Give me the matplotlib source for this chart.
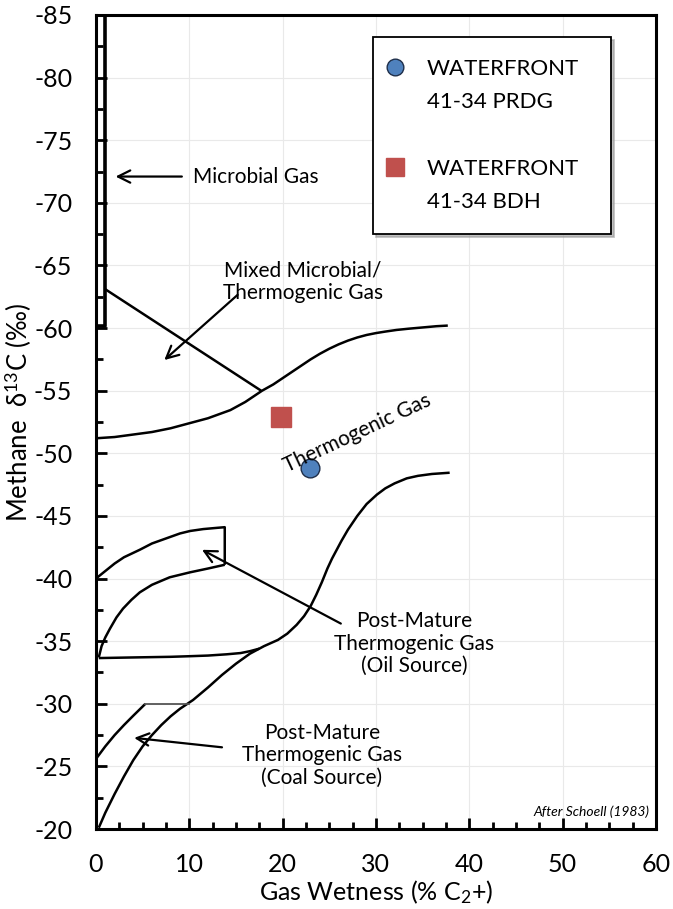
import numpy as np
import matplotlib
matplotlib.use("Agg")
import matplotlib.pyplot as plt
from matplotlib.lines import Line2D

plt.rcParams['font.family'] = ['Lato', 'DejaVu Sans']
plt.rcParams['mathtext.fontset'] = 'custom'
plt.rcParams['mathtext.rm'] = 'Lato'
plt.rcParams['mathtext.it'] = 'Lato:italic'
plt.rcParams['axes.unicode_minus'] = False

# ---- data ----
prdg_x = [22.9]
prdg_y = [-48.8]
bdh_x = [19.8]
bdh_y = [-52.9]

# microbial bracket (x=1 from -85 to -60)
microbial_x = [1, 1, 0]
microbial_y = [-85, -60.2, -60.2]

# mixed microbial / thermogenic line
mixed_x = [1.0, 17.7]
mixed_y = [-63.1, -55.0]

# upper thermogenic boundary
upper_x = [0, 2, 4, 6, 8, 10, 12, 14.4, 16, 17.8, 19, 20, 21, 22, 23, 24,
           25, 26, 27, 28, 29, 30, 31, 32.2, 33.5, 35, 36.5, 37.7]
upper_y = [-51.2, -51.3, -51.5, -51.7, -52.0, -52.4, -52.8, -53.45, -54.1,
           -55.0, -55.5, -56.0, -56.5, -57.0, -57.5, -57.95, -58.35, -58.7,
           -59.0, -59.25, -59.45, -59.6, -59.72, -59.85, -59.95, -60.05,
           -60.15, -60.2]

# flat oil-source base
flat_x = [0.3, 4, 8, 10.1, 12, 14, 15.5, 16.5, 17.5]
flat_y = [-33.65, -33.7, -33.75, -33.8, -33.85, -33.95, -34.05, -34.2, -34.4]

# coal-source lower curve continuing into the S curve
scurve_x = [0.3, 1, 2, 3, 4, 5, 6, 7, 8, 9, 10.4, 12, 13.5, 15, 16.5, 18,
            19.5, 20.5, 21.5, 22.3, 23, 23.6, 24.2, 24.8, 25.3, 25.8, 26.3,
            27, 28, 29, 30.1, 31, 32, 33.3, 34.5, 36, 37.9]
scurve_y = [-20.1, -21.3, -22.8, -24.2, -25.5, -26.6, -27.5, -28.3, -29.0,
            -29.6, -30.3, -31.3, -32.3, -33.2, -34.0, -34.6, -35.1, -35.6,
            -36.3, -37.0, -37.8, -38.7, -39.7, -40.8, -41.6, -42.3, -43.0,
            -43.9, -45.0, -45.95, -46.7, -47.2, -47.6, -48.0, -48.2, -48.35,
            -48.45]

# oil source post-mature box
oil_top_x = [0, 1, 2, 3, 4.7, 6, 7.5, 9, 10.1, 11.5, 13, 13.8, 13.8]
oil_top_y = [-40.0, -40.6, -41.2, -41.7, -42.3, -42.8, -43.2, -43.6, -43.8,
             -43.95, -44.05, -44.1, -41.1]
oil_low_x = [0.3, 0.6, 1.0, 1.5, 2.2, 2.9, 3.8, 4.7, 6, 7.9, 10.1, 12, 13.8]
oil_low_y = [-33.7, -34.6, -35.3, -36.0, -36.9, -37.6, -38.3, -38.9, -39.5,
             -40.1, -40.5, -40.8, -41.1]

# coal source post-mature
coal_top_x = [0, 1, 2, 3, 4, 5.3]
coal_top_y = [-25.6, -26.6, -27.5, -28.3, -29.05, -30.0]
coal_flat_x = [5.3, 10]
coal_flat_y = [-30.0, -30.0]

xticks = [0, 10, 20, 30, 40, 50, 60]
yticks = [-20, -25, -30, -35, -40, -45, -50, -55, -60, -65, -70, -75, -80, -85]

fig = plt.figure(figsize=(6.73, 9.09), dpi=100)
ax = fig.add_axes([0.1426, 0.088, 0.832, 0.8955])

ax.set_xlim(0, 60)
ax.set_ylim(-20, -85)
ax.set_xticks(xticks)
ax.set_yticks(yticks)
ax.set_xticks(np.arange(0, 60.1, 2.5), minor=True)
ax.set_yticks(np.arange(-85, -19.9, 2.5), minor=True)
ax.tick_params(which='both', direction='in', width=2)
ax.tick_params(which='major', length=8, labelsize=18)
ax.tick_params(which='minor', length=5)
ax.tick_params(axis='y', pad=17)
ax.tick_params(axis='x', pad=17.5)
ax.grid(True, which='major', color='#e9e9e9', lw=0.8)
ax.set_axisbelow(True)
for s in ax.spines.values():
    s.set_linewidth(2.2)

lk = dict(color='black', lw=1.8, solid_capstyle='butt', solid_joinstyle='round')
ax.plot(microbial_x, microbial_y, color='black', lw=2.6)
ax.plot(mixed_x, mixed_y, **lk)
ax.plot(upper_x, upper_y, **lk)
ax.plot(flat_x, flat_y, **lk)
ax.plot(scurve_x, scurve_y, **lk)
ax.plot(oil_top_x, oil_top_y, **lk)
ax.plot(oil_low_x, oil_low_y, **lk)
ax.plot(coal_top_x, coal_top_y, **lk)
ax.plot(coal_flat_x, coal_flat_y, color='#555555', lw=1.3)

ap = dict(arrowstyle='->', color='black', lw=1.6, mutation_scale=22)
fs = 15
ax.annotate('', xy=(1.8, -72.1), xytext=(9.5, -72.1), arrowprops=ap)
ax.text(10.4, -72.1, 'Microbial Gas', fontsize=fs, va='center', ha='left')

ax.annotate('', xy=(7.1, -57.3), xytext=(15.4, -62.8), arrowprops=ap)
ax.text(22.2, -63.7, 'Mixed Microbial/\nThermogenic Gas', fontsize=fs,
        va='center', ha='center', linespacing=1.15)

ax.text(28.0, -51.6, 'Thermogenic Gas', fontsize=fs, va='center',
        ha='center', rotation=25)

ax.annotate('', xy=(11.1, -42.4), xytext=(26.5, -36.3), arrowprops=ap)
ax.text(34.1, -34.8, 'Post-Mature\nThermogenic Gas\n(Oil Source)',
        fontsize=fs, va='center', ha='center', linespacing=1.15)

ax.annotate('', xy=(3.8, -27.3), xytext=(13.8, -26.5), arrowprops=ap)
ax.text(24.2, -25.9, 'Post-Mature\nThermogenic Gas\n(Coal Source)',
        fontsize=fs, va='center', ha='center', linespacing=1.15)

ax.text(59.3, -21.4, 'After Schoell (1983)', fontsize=10, style='italic',
        ha='right', va='center')

ax.plot(prdg_x, prdg_y, 'o', ms=13.5, color='#4F81BD', mec='#1f2f4a', mew=1,
        ls='none')
ax.plot(bdh_x, bdh_y, 's', ms=14.5, color='#C0504D', mec='#C0504D',
        ls='none')

# legend: one row per text line so the marker sits on the first line
h_prdg = Line2D([], [], marker='o', ms=12, color='#4F81BD', mec='#1f2f4a',
                mew=1, ls='none')
h_bdh = Line2D([], [], marker='s', ms=12.5, color='#C0504D', mec='#C0504D',
               ls='none')
h_none = Line2D([], [], ls='none')
leg = ax.legend([h_prdg, h_none, h_none, h_bdh, h_none],
                ['WATERFRONT', '41-34 PRDG', ' ', 'WATERFRONT', '41-34 BDH'],
                loc='upper left', bbox_to_anchor=(0.4946, 0.5, 0.425, 0.473),
                mode='expand', fontsize=16, frameon=True, fancybox=False,
                shadow={'color': '#999999', 'alpha': 0.6}, edgecolor='black',
                framealpha=1, borderpad=1.0, labelspacing=0.59,
                handletextpad=1.42, handlelength=0, borderaxespad=0)
leg.get_frame().set_linewidth(1.3)

ax.set_xlabel('Gas Wetness (% C$_2$+)', fontsize=18, labelpad=1)
ax.set_ylabel('Methane  δ$^{13}$C (‰)', fontsize=18.5)
ax.yaxis.set_label_coords(-0.11, 0.512)

fig.savefig('out.png', dpi=100)
